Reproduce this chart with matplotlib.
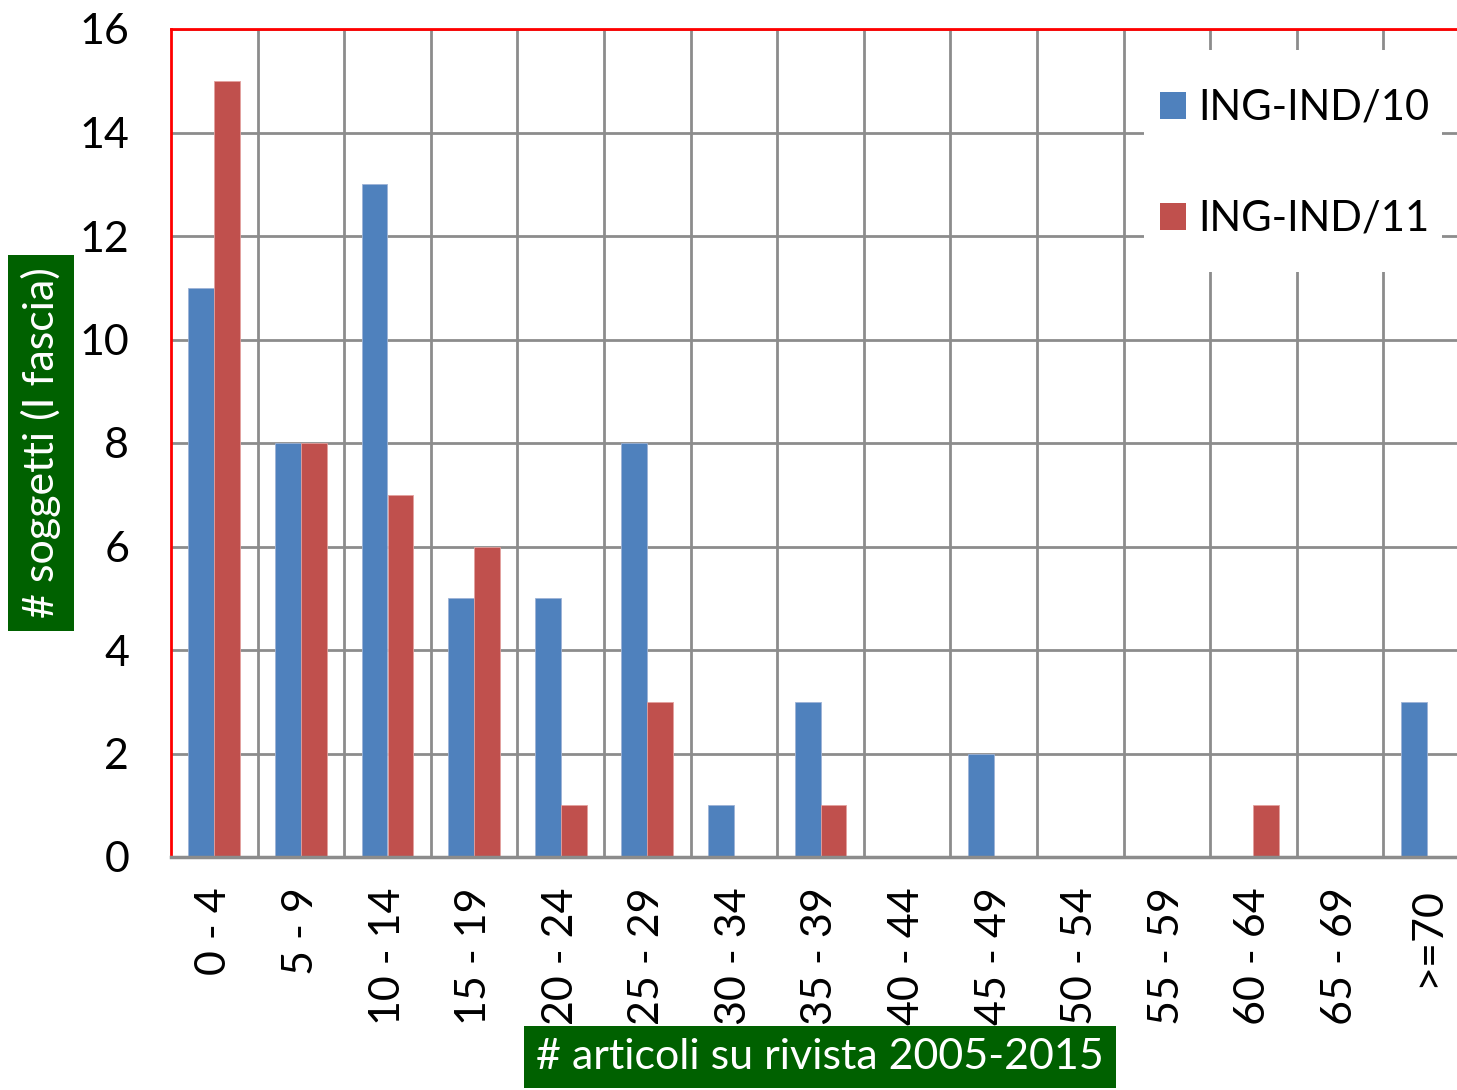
import numpy as np
import matplotlib.pyplot as plt
from matplotlib.patches import Patch, Rectangle

plt.rcParams.update({
    "font.family": ["Lato", "DejaVu Sans"],
    "font.size": 31,
})

BLUE = "#4F81BD"
RED = "#C0504D"
GREEN = "#006100"
GRID = "#8C8C8C"

categories = ["0 - 4", "5 - 9", "10 - 14", "15 - 19", "20 - 24", "25 - 29",
              "30 - 34", "35 - 39", "40 - 44", "45 - 49", "50 - 54", "55 - 59",
              "60 - 64", "65 - 69", ">=70"]
ing_ind_10 = [11, 8, 13, 5, 5, 8, 1, 3, 0, 2, 0, 0, 0, 0, 3]
ing_ind_11 = [15, 8, 7, 6, 1, 3, 0, 1, 0, 0, 0, 0, 1, 0, 0]
series_names = ["ING-IND/10", "ING-IND/11"]

W, H = 1457, 1090
fig = plt.figure(figsize=(W / 100, H / 100), dpi=100)
# plot area runs a little past the right edge of the picture, as in the source
ax = fig.add_axes([171 / W, 1 - 857 / H, 1299 / W, 828 / H])

x = np.arange(len(categories))
w = 0.30
ax.bar(x - w / 2, ing_ind_10, w, color=BLUE, edgecolor="#9DB3D6", lw=0.6, zorder=3)
ax.bar(x + w / 2, ing_ind_11, w, color=RED, edgecolor="#E3A09E", lw=0.6, zorder=3)

ax.set_xlim(-0.5, len(categories) - 0.5)
ax.set_ylim(0, 16)
ax.set_yticks(np.arange(0, 17, 2))
ax.set_xticks(x)
ax.set_xticklabels(categories, rotation=90, va="top", ha="center")

# grid: horizontal at major y ticks, vertical between categories
for yv in np.arange(2, 17, 2):
    ax.axhline(yv, color=GRID, lw=2, zorder=1)
for xv in np.arange(0.5, len(categories) - 0.5, 1):
    ax.axvline(xv, color=GRID, lw=2, zorder=1)

ax.tick_params(axis="both", length=0)
ax.tick_params(axis="x", pad=22)
ax.tick_params(axis="y", pad=30)

for s in ("top", "left", "right"):
    ax.spines[s].set_color("#FF0000")
    ax.spines[s].set_linewidth(2)
ax.spines["bottom"].set_color(GRID)
ax.spines["bottom"].set_linewidth(2.5)
ax.spines["bottom"].set_zorder(4)

# white legend panel covering the grid
ax.add_patch(Rectangle((1144 / W, 1 - 272 / H), 298 / W, 222 / H,
                       transform=fig.transFigure, facecolor="white",
                       edgecolor="none", zorder=4))
handles = [Patch(facecolor=BLUE, edgecolor="none"),
           Patch(facecolor=RED, edgecolor="none")]
leg = ax.legend(handles, series_names, loc="upper right",
                bbox_to_anchor=(1430 / W, 1 - 89 / H),
                bbox_transform=fig.transFigure, borderaxespad=0,
                frameon=False, handlelength=0.62, handleheight=0.62,
                handletextpad=0.3, labelspacing=1.75, borderpad=0,
                fontsize=30)
leg.set_zorder(5)

fig.text(41 / W, 1 - 443 / H, "# soggetti (I fascia)", rotation=90,
         ha="center", va="center", color="white", fontsize=31,
         bbox=dict(facecolor=GREEN, edgecolor="none", pad=9))
fig.text(820 / W, 1 - 1057 / H, "# articoli su rivista 2005-2015",
         ha="center", va="center", color="white", fontsize=31,
         bbox=dict(facecolor=GREEN, edgecolor="none", pad=9))

fig.savefig("out.png", dpi=100)
